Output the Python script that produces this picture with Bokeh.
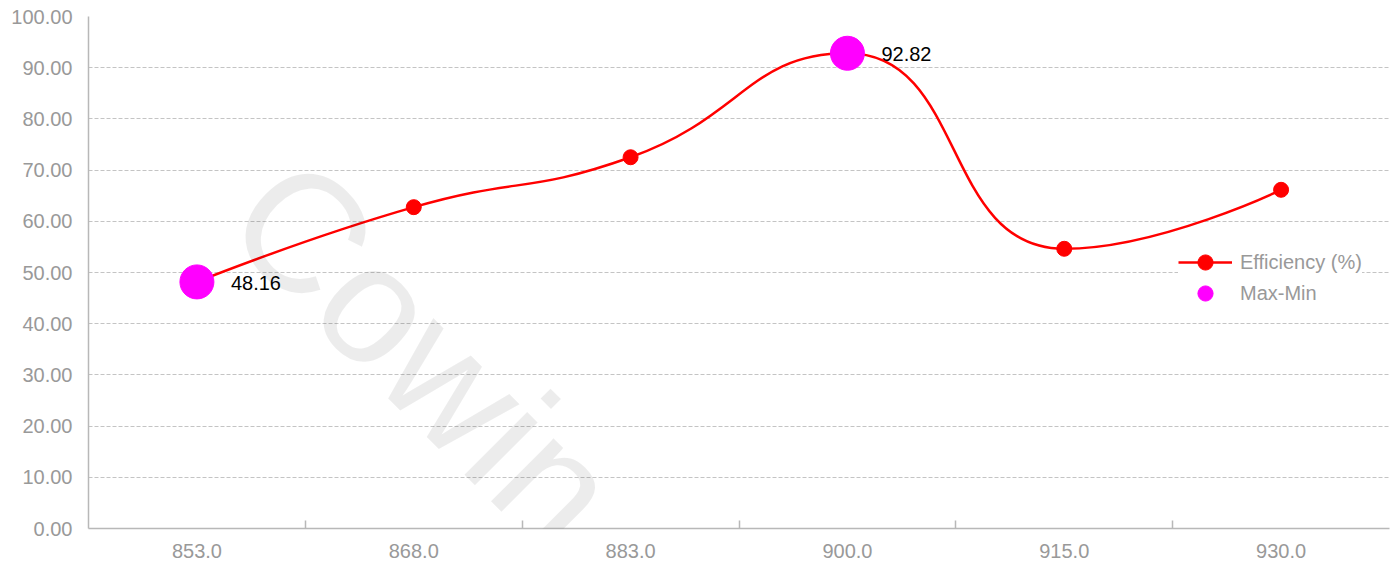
import numpy as np
from bokeh.plotting import figure
from bokeh.models import (Range1d, FixedTicker, Legend, LegendItem, Label,
                          ColumnDataSource, PrintfTickFormatter)
from bokeh.embed import file_html
from bokeh.resources import INLINE
from bokeh.core.properties import value

# ---- data ----
freq_labels = ["853.0", "868.0", "883.0", "900.0", "915.0", "930.0"]
efficiency = [48.16, 62.76, 72.51, 92.82, 54.63, 66.15]
y_ticks = [0, 10, 20, 30, 40, 50, 60, 70, 80, 90, 100]
series_name = "Efficiency (%)"
maxmin_name = "Max-Min"
watermark = "Cowin"

# ---- layout ----
W, H = 1391, 567
BL, BR, BT, BB = 88, 2, 16, 39
FONT = "Liberation Sans"
GRAY_TXT = "#999999"
AXIS_COL = "#b8b8b8"

n = len(freq_labels)
xs = [i + 0.5 for i in range(n)]

p = figure(width=W, height=H, output_backend="svg", toolbar_location=None,
           x_range=Range1d(0, n), y_range=Range1d(0, 100),
           min_border_left=BL, min_border_right=BR, min_border_top=BT,
           min_border_bottom=BB)
p.outline_line_color = None
p.background_fill_color = "white"
p.border_fill_color = "white"

# x axis: labels at category centres, ticks at boundaries
xa = p.xaxis[0]
xa.ticker = FixedTicker(ticks=xs, minor_ticks=list(range(1, n)))
xa.major_label_overrides = {x: lab for x, lab in zip(xs, freq_labels)}
xa.major_tick_line_color = None
xa.major_tick_in = 0
xa.major_tick_out = 0
xa.minor_tick_line_color = AXIS_COL
xa.minor_tick_line_width = 1.5
xa.minor_tick_in = 8
xa.minor_tick_out = 0
xa.axis_line_color = AXIS_COL
xa.axis_line_width = 1.5
xa.major_label_text_font = FONT
xa.major_label_text_font_size = "20px"
xa.major_label_text_color = GRAY_TXT
xa.major_label_standoff = 15

ya = p.yaxis[0]
ya.ticker = FixedTicker(ticks=y_ticks)
ya.formatter = PrintfTickFormatter(format="%.2f")
ya.major_tick_line_color = None
ya.minor_tick_line_color = None
ya.major_tick_out = 0
ya.major_tick_in = 0
ya.axis_line_color = AXIS_COL
ya.axis_line_width = 1.5
ya.major_label_text_font = FONT
ya.major_label_text_font_size = "20px"
ya.major_label_text_color = GRAY_TXT
ya.major_label_standoff = 16

p.xgrid.grid_line_color = None
p.ygrid.grid_line_color = "#c4c4c4"
p.ygrid.grid_line_dash = "4 2"
p.ygrid.grid_line_width = 1

fw = W - BL - BR
fh = H - BT - BB
sx, sy = fw / n, fh / 100.0

# watermark (translucent overlay)
wm = Label(x=0.79 * sx, y=66.5 * sy, x_units="screen", y_units="screen",
           text=watermark, angle=-45, angle_units="deg",
           text_font=FONT, text_font_size="168px", text_color="#000000",
           text_alpha=0.075, text_align="left", text_baseline="alphabetic",
           level="overlay")
p.add_layout(wm)

# ---- smooth curve (bezier segments derived from the data points) ----
P = np.array([[x * sx, y * sy] for x, y in zip(xs, efficiency)])
smooth = 0.5
cp0 = P[0].copy()
segs = []
for i in range(1, n):
    pt = P[i]
    prev = P[i - 1]
    if i == n - 1:
        cp1 = pt.copy()
        ncp0 = pt.copy()
    else:
        nxt = P[i + 1]
        v = nxt - prev
        lp = np.linalg.norm(pt - prev)
        ln = np.linalg.norm(nxt - pt)
        r = ln / (ln + lp)
        ncp0 = pt + v * smooth * r
        ncp0 = np.minimum(ncp0, np.maximum(nxt, pt))
        ncp0 = np.maximum(ncp0, np.minimum(nxt, pt))
        v = ncp0 - pt
        cp1 = pt - v * lp / ln
        cp1 = np.minimum(cp1, np.maximum(prev, pt))
        cp1 = np.maximum(cp1, np.minimum(prev, pt))
        v = pt - cp1
        ncp0 = pt + v * ln / lp
    segs.append((prev, cp0.copy(), cp1.copy(), pt))
    cp0 = ncp0

bsrc = ColumnDataSource(dict(
    x0=[s[0][0] / sx for s in segs], y0=[s[0][1] / sy for s in segs],
    cx0=[s[1][0] / sx for s in segs], cy0=[s[1][1] / sy for s in segs],
    cx1=[s[2][0] / sx for s in segs], cy1=[s[2][1] / sy for s in segs],
    x1=[s[3][0] / sx for s in segs], y1=[s[3][1] / sy for s in segs],
))
line_r = p.bezier(x0="x0", y0="y0", x1="x1", y1="y1", cx0="cx0", cy0="cy0",
                  cx1="cx1", cy1="cy1", source=bsrc, line_color="#ff0000",
                  line_width=2.5)

src = ColumnDataSource(dict(x=xs, y=efficiency))
dots_r = p.scatter("x", "y", source=src, size=15, fill_color="#ff0000",
                   line_color="#ff0000")

# max / min points
imax = int(np.argmax(efficiency))
imin = int(np.argmin(efficiency))
mm = ColumnDataSource(dict(
    x=[xs[imin], xs[imax]],
    y=[efficiency[imin], efficiency[imax]],
    t=[f"{efficiency[imin]:.2f}", f"{efficiency[imax]:.2f}"],
))
mm_r = p.scatter("x", "y", source=mm, size=34, fill_color="#ff00ff",
                 line_color="#ff00ff")
p.text("x", "y", text="t", source=mm, x_offset=34, y_offset=1,
       text_font=value(FONT), text_font_size="20px", text_color="#000000",
       text_align="left", text_baseline="middle")

leg_style = dict(orientation="vertical", label_text_font=FONT,
                 label_text_font_size="20px", label_text_color=GRAY_TXT,
                 glyph_width=54, glyph_height=38, label_height=38, spacing=0,
                 label_standoff=8, padding=6, margin=0,
                 background_fill_color="white", background_fill_alpha=1.0,
                 border_line_color=None)
leg1 = Legend(items=[LegendItem(label=series_name, renderers=[line_r, dots_r])],
              location=(1090, 247), **leg_style)
leg2 = Legend(items=[LegendItem(label=maxmin_name, renderers=[mm_r])],
              location=(1090, 216), **leg_style)
p.add_layout(leg2)
p.add_layout(leg1)

open("out.html", "w").write(file_html(p, INLINE))
